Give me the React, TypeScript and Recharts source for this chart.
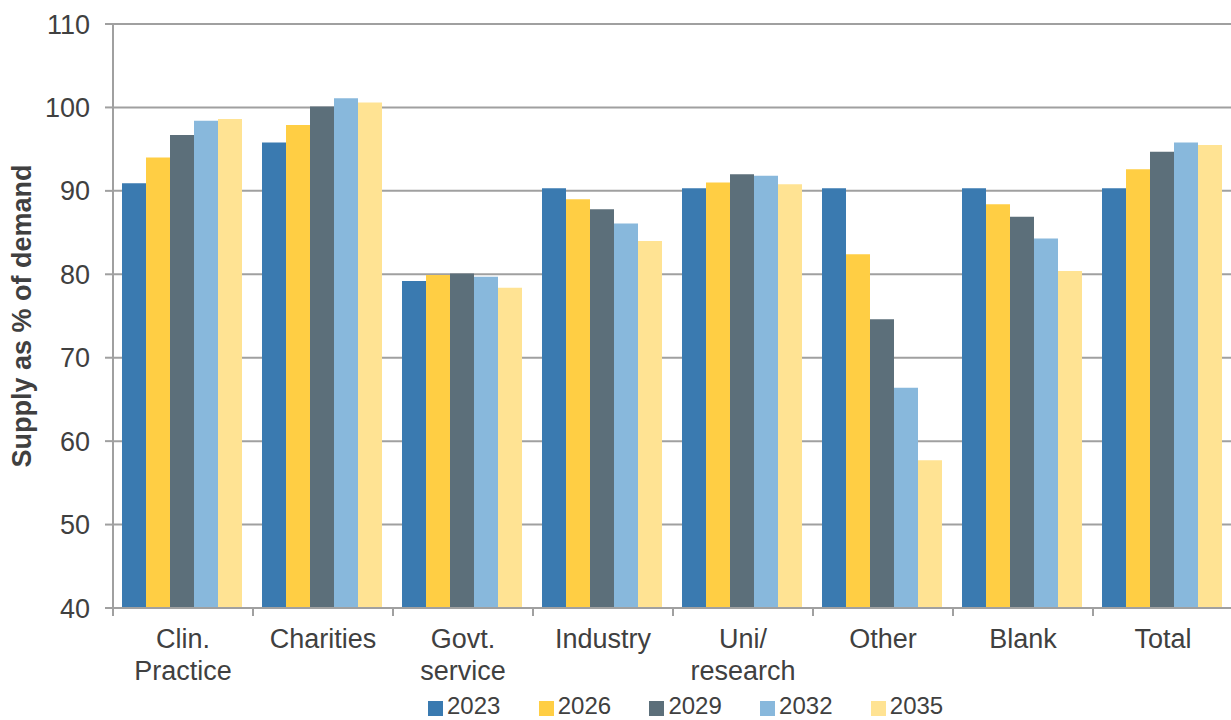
import { Bar, BarChart, CartesianGrid, XAxis, YAxis } from "recharts";

const categories = [
  "Clin.\nPractice",
  "Charities",
  "Govt.\nservice",
  "Industry",
  "Uni/\nresearch",
  "Other",
  "Blank",
  "Total",
];
const years = ["2023", "2026", "2029", "2032", "2035"];
const colors = ["#3A7AB0", "#FFCE44", "#5C6F7A", "#88B8DC", "#FFE393"];

const v2023 = [90.9, 95.8, 79.2, 90.3, 90.3, 90.3, 90.3, 90.3];
const v2026 = [94.0, 97.9, 79.9, 89.0, 91.0, 82.4, 88.4, 92.6];
const v2029 = [96.7, 100.1, 80.1, 87.8, 92.0, 74.6, 86.9, 94.7];
const v2032 = [98.4, 101.1, 79.7, 86.1, 91.8, 66.4, 84.3, 95.8];
const v2035 = [98.6, 100.6, 78.4, 84.0, 90.8, 57.7, 80.4, 95.5];
const yTicks = [40, 50, 60, 70, 80, 90, 100, 110];

const series = [v2023, v2026, v2029, v2032, v2035];

const data = categories.map((name, i) => {
  const row: Record<string, string | number> = { name };
  years.forEach((year, s) => {
    row[year] = series[s][i];
  });
  return row;
});

const WIDTH = 1240;
const HEIGHT = 720;
const MARGIN = { top: 24, right: 7, left: 0, bottom: 0 };
const Y_WIDTH = 113;
const X_HEIGHT = 112;
const TEXT = "#404040";
const GRID = "#A0A0A0";
const FONT = "'Liberation Sans', Arial, sans-serif";
const FONT_SIZE = 27;

const halfBand = (WIDTH - MARGIN.left - MARGIN.right - Y_WIDTH) / categories.length / 2;

// tick y from recharts sits 8px under the axis (tickSize 6 + margin 2)
const CategoryTick = ({ x, y, payload }: any) => {
  const lines = String(payload.value).split("\n");
  return (
    <g>
      <line x1={x - halfBand} x2={x - halfBand} y1={y - 8} y2={y} stroke={GRID} strokeWidth={2} />
      <text textAnchor="middle" fill={TEXT} fontSize={FONT_SIZE} fontFamily={FONT}>
        {lines.map((line, i) => (
          <tspan key={i} x={x} y={y + 32 + i * 31.5}>
            {line}
          </tspan>
        ))}
      </text>
    </g>
  );
};

export default function App() {
  return (
    <div
      style={{
        position: "absolute",
        left: 0,
        top: 0,
        width: 1231,
        height: 720,
        overflow: "hidden",
        background: "#fff",
        fontFamily: FONT,
      }}
    >
      <BarChart
        width={WIDTH}
        height={HEIGHT}
        data={data}
        margin={MARGIN}
        barCategoryGap={9}
        barGap={0}
      >
        <CartesianGrid vertical={false} stroke={GRID} strokeWidth={2} />
        <XAxis
          dataKey="name"
          height={X_HEIGHT}
          interval={0}
          axisLine={{ stroke: GRID, strokeWidth: 2 }}
          tickLine={false}
          tick={<CategoryTick />}
        />
        <YAxis
          width={Y_WIDTH}
          domain={[40, 110]}
          ticks={yTicks}
          interval={0}
          axisLine={{ stroke: GRID, strokeWidth: 2 }}
          tickLine={{ stroke: GRID, strokeWidth: 2 }}
          tickSize={8}
          tickMargin={15}
          tick={{ fill: TEXT, fontSize: FONT_SIZE, fontFamily: FONT }}
          label={{
            content: () => (
              <text
                transform="translate(31,316) rotate(-90)"
                textAnchor="middle"
                fill={TEXT}
                fontSize={FONT_SIZE}
                fontWeight="bold"
                fontFamily={FONT}
              >
                Supply as % of demand
              </text>
            ),
          }}
        />
        {years.map((year, s) => (
          <Bar key={year} dataKey={year} fill={colors[s]} isAnimationActive={false} />
        ))}
      </BarChart>
      {years.map((year, s) => (
        <div
          key={year}
          style={{ position: "absolute", left: 428 + s * 110.7, top: 694, height: 24 }}
        >
          <span
            style={{
              position: "absolute",
              left: 0,
              top: 7,
              width: 15,
              height: 15,
              background: colors[s],
            }}
          />
          <span
            style={{
              position: "absolute",
              left: 19,
              top: 0,
              fontSize: 24,
              lineHeight: "24px",
              color: TEXT,
              whiteSpace: "nowrap",
            }}
          >
            {year}
          </span>
        </div>
      ))}
    </div>
  );
}
